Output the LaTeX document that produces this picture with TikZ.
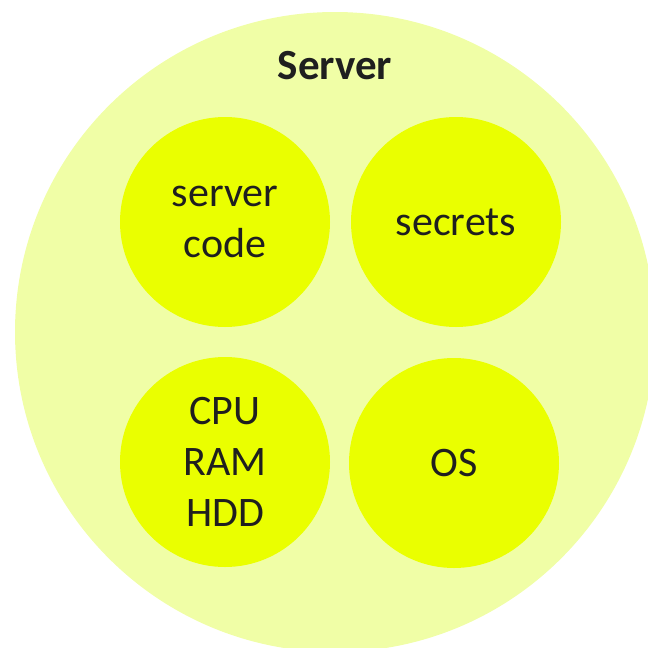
\documentclass[tikz,border=0pt]{standalone}
\usepackage{fontspec}
\setmainfont{Carlito}
\usepackage{tikz}
\definecolor{outerlime}{RGB}{240,254,166}
\definecolor{innerlime}{RGB}{234,255,0}

\begin{document}
\begin{tikzpicture}[x=1pt,y=-1pt]
\tikzset{part/.style={circle,fill=innerlime,minimum size=210pt,inner sep=0pt,align=center,
  font=\fontsize{42}{51}\selectfont,text=black!88}}
\useasboundingbox (0,0) rectangle (648,648);
\node[circle,fill=outerlime,minimum size=640pt,inner sep=0pt] (server) at (335,332) {};
\node[font=\bfseries\fontsize{43}{48}\selectfont,text=black!88] (title) at (335,66) {Server};
\node[part] (code) at (225,222) {server\\code};
\node[part] (secrets) at (456,222) {secrets};
\node[part] (hw) at (225,462) {CPU\\RAM\\HDD};
\node[part] (os) at (454,463) {OS};
\end{tikzpicture}
\end{document}
